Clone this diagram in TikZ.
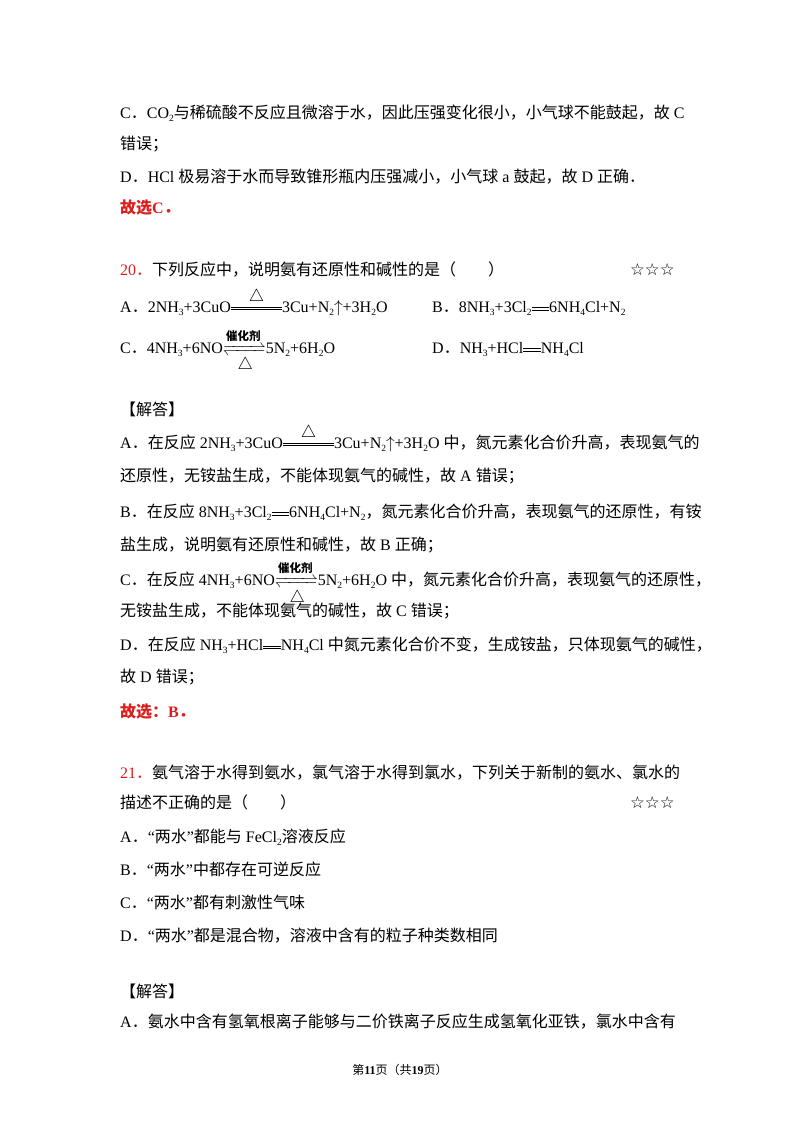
\documentclass[tikz,border=0pt]{standalone}
\usepackage{fontspec}
\usepackage{mathtools}
\setmainfont{Liberation Serif}
\newfontfamily\cjk{Noto Sans CJK SC}
\newfontfamily\dv{DejaVu Sans}
\makeatletter
\XeTeXinterchartokenstate=1
\newXeTeXintercharclass\cjkcls
\count@="3000
\loop\XeTeXcharclass\count@=\cjkcls \ifnum\count@<"9FFF \advance\count@ 1 \repeat
\count@="FF00
\loop\XeTeXcharclass\count@=\cjkcls \ifnum\count@<"FFEF \advance\count@ 1 \repeat
\makeatother
\XeTeXinterchartoks 0 \cjkcls = {\begingroup\cjk}
\XeTeXinterchartoks 4095 \cjkcls = {\begingroup\cjk}
\XeTeXinterchartoks \cjkcls 0 = {\endgroup}
\XeTeXinterchartoks \cjkcls 4095 = {\endgroup}
\newcommand\sbb[1]{\raisebox{-0.35ex}{\fontsize{9.5}{10}\selectfont #1}}
\newcommand\deq{\raisebox{0.25ex}{\rule{1.1em}{0.6pt}}\kern-1.1em\raisebox{0.6ex}{\rule{1.1em}{0.6pt}}}
\newcommand\heq{$\mathrel{\overset{\textstyle\triangle}{\vcenter{\hrule width 3.2em height .7pt\vskip1.6pt\hrule width 3.2em height .7pt}}}$}
\newcommand\req{$\xrightleftharpoons[\raisebox{-2pt}{$\triangle$}]{\raisebox{2pt}{\text{\fontsize{11.5}{11}\selectfont\bfseries 催化剂}}}$}
\definecolor{redt}{RGB}{220,30,30}
\begin{document}
\begin{tikzpicture}[x=1pt,y=-1pt,
  ln/.style={anchor=base west,inner sep=0pt,yshift=-5.5pt,font=\fontsize{16}{20}\selectfont},
  rd/.style={ln,text=redt,font=\fontsize{16}{20}\selectfont\bfseries},
  st/.style={anchor=base west,inner sep=0pt,yshift=-5.5pt,font=\dv\fontsize{16.5}{18}\selectfont}]
\useasboundingbox (0,0) rectangle (800,1132);
\fill[white] (0,0) rectangle (800,1132);
\node[ln] (l1) at (120,113) {C．CO\sbb{2}与稀硫酸不反应且微溶于水，因此压强变化很小，小气球不能鼓起，故 C};
\node[ln] (l2) at (120,144) {错误；};
\node[ln] (l3) at (120,177) {D．HCl 极易溶于水而导致锥形瓶内压强减小，小气球 a 鼓起，故 D 正确．};
\node[rd] (l4) at (120,208) {故选C．};
\node[ln] (q20) at (120,270) {\textcolor{redt}{20．}下列反应中，说明氨有还原性和碱性的是（　　）};
\node[st] (s20) at (630,270) {☆☆☆};
\node[ln] (oA) at (120,307) {A．2NH\sbb{3}+3CuO\heq 3Cu+N\sbb{2}$\uparrow$+3H\sbb{2}O};
\node[ln] (oB) at (432,307) {B．8NH\sbb{3}+3Cl\sbb{2}\deq 6NH\sbb{4}Cl+N\sbb{2}};
\node[ln] (oC) at (120,348) {C．4NH\sbb{3}+6NO\req 5N\sbb{2}+6H\sbb{2}O};
\node[ln] (oD) at (432,348) {D．NH\sbb{3}+HCl\deq NH\sbb{4}Cl};
\node[ln] (j1) at (120,410) {【解答】};
\node[ln] (a1) at (120,443) {A．在反应 2NH\sbb{3}+3CuO\heq 3Cu+N\sbb{2}$\uparrow$+3H\sbb{2}O 中，氮元素化合价升高，表现氨气的};
\node[ln] (a2) at (120,476) {还原性，无铵盐生成，不能体现氨气的碱性，故 A 错误；};
\node[ln] (b1) at (120,512) {B．在反应 8NH\sbb{3}+3Cl\sbb{2}\deq 6NH\sbb{4}Cl+N\sbb{2}，氮元素化合价升高，表现氨气的还原性，有铵};
\node[ln] (b2) at (120,545) {盐生成，说明氨有还原性和碱性，故 B 正确；};
\node[ln] (c1) at (120,580) {C．在反应 4NH\sbb{3}+6NO\req 5N\sbb{2}+6H\sbb{2}O 中，氮元素化合价升高，表现氨气的还原性，};
\node[ln] (c2) at (120,611) {无铵盐生成，不能体现氨气的碱性，故 C 错误；};
\node[ln] (d1) at (120,645) {D．在反应 NH\sbb{3}+HCl\deq NH\sbb{4}Cl 中氮元素化合价不变，生成铵盐，只体现氨气的碱性，};
\node[ln] (d2) at (120,677) {故 D 错误；};
\node[rd] (e1) at (120,712) {故选：B．};
\node[ln] (q21) at (120,773) {\textcolor{redt}{21．}氨气溶于水得到氨水，氯气溶于水得到氯水，下列关于新制的氨水、氯水的};
\node[ln] (q21b) at (120,803) {描述不正确的是（　　）};
\node[st] (s21) at (630,803) {☆☆☆};
\node[ln] (pA) at (120,837) {A．“两水”都能与 FeCl\sbb{2}溶液反应};
\node[ln] (pB) at (120,870) {B．“两水”中都存在可逆反应};
\node[ln] (pC) at (120,903) {C．“两水”都有刺激性气味};
\node[ln] (pD) at (120,936) {D．“两水”都是混合物，溶液中含有的粒子种类数相同};
\node[ln] (j2) at (120,992) {【解答】};
\node[ln] (f1) at (120,1022) {A．氨水中含有氢氧根离子能够与二价铁离子反应生成氢氧化亚铁，氯水中含有};
\node[inner sep=0pt,font=\fontsize{12}{14}\selectfont] (ft) at (400,1070) {第\textbf{11}页（共\textbf{19}页）};
\end{tikzpicture}
\end{document}
